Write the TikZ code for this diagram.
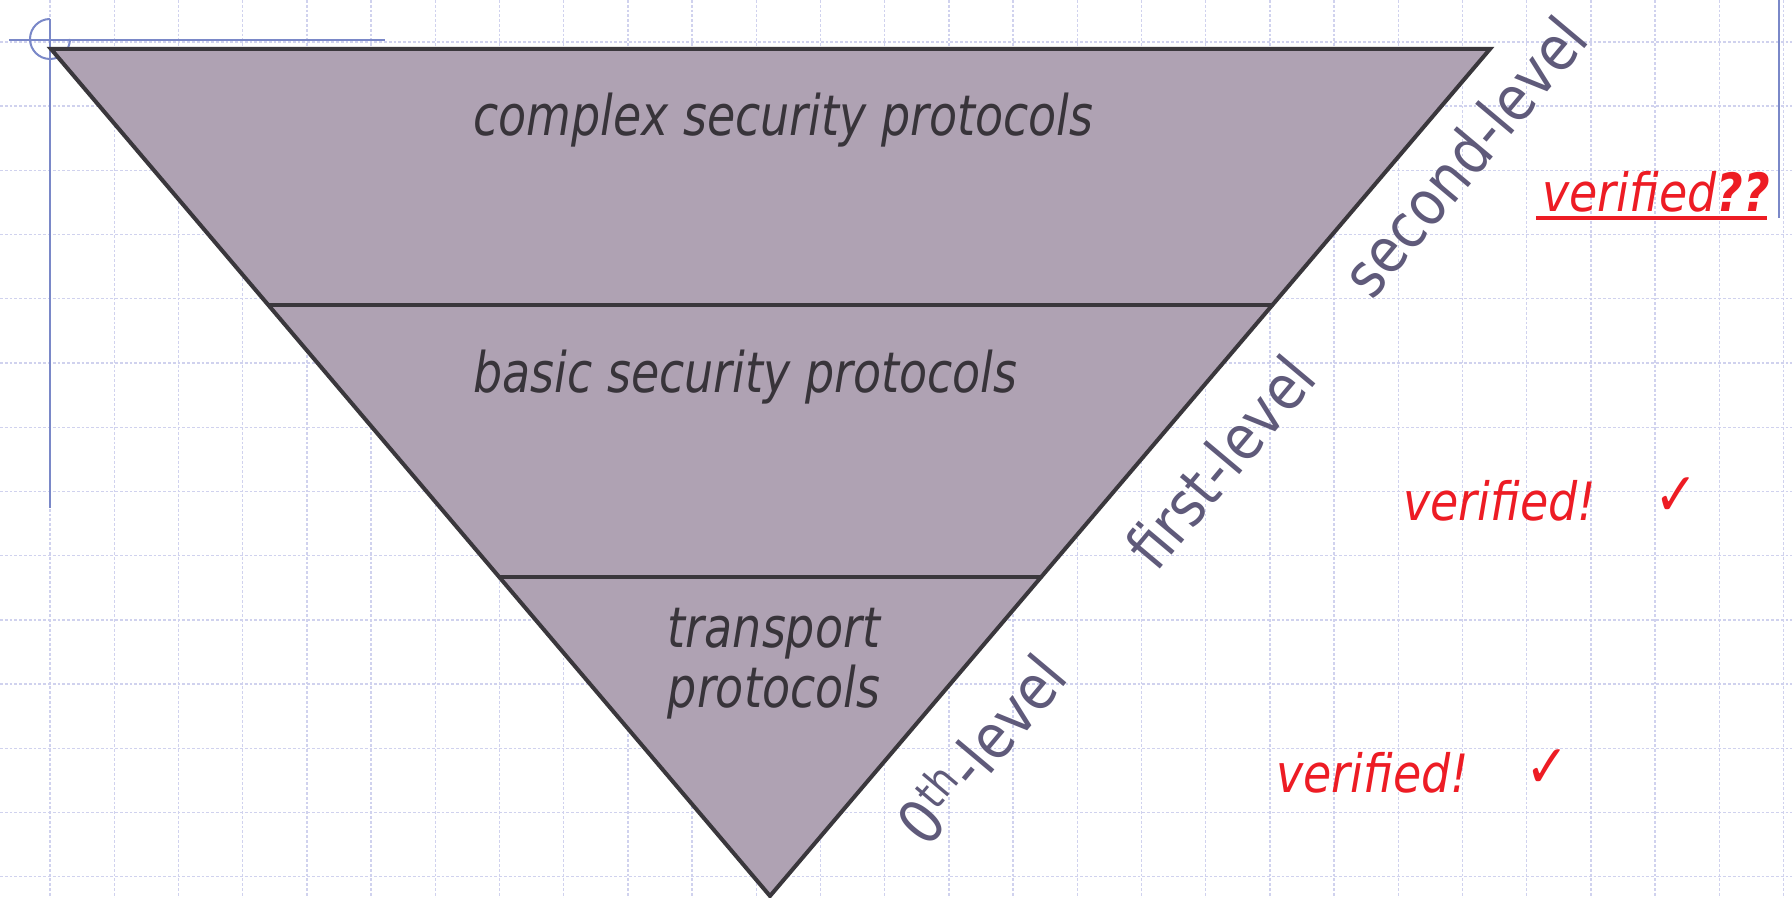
\documentclass[tikz,border=0pt]{standalone}
\usepackage{fontspec}
\setmainfont{DejaVu Sans}[FakeStretch=0.87]
\newfontfamily\narrowfont{DejaVu Sans}[FakeStretch=0.82]
\usetikzlibrary{calc}
\definecolor{gridc}{RGB}{208,210,238}
\definecolor{guide}{RGB}{122,136,200}
\definecolor{trifill}{RGB}{175,162,179}
\definecolor{triline}{RGB}{58,55,60}
\definecolor{intext}{RGB}{56,52,58}
\definecolor{lvltext}{RGB}{95,90,122}
\definecolor{redtext}{RGB}{237,28,36}
\tikzset{
  gridline/.style={draw=gridc, line width=0.7pt, dash pattern=on 1.4pt off 1pt},
  guideline/.style={draw=guide, line width=1pt},
  tri/.style={fill=trifill, draw=triline, line width=2pt},
  bandline/.style={draw=triline, line width=2pt},
  intxt/.style={inner sep=0pt, text=intext, font=\narrowfont\fontsize{28}{30}\selectfont\itshape},
  lvl/.style={inner sep=0pt, text=lvltext, rotate=50, font=\fontsize{31}{34}\selectfont},
  redtxt/.style={inner sep=0pt, text=redtext, font=\fontsize{26.4}{30}\selectfont\itshape},
  chk/.style={inner sep=0pt, text=redtext, font=\fontsize{30}{32}\selectfont\bfseries},
}
\begin{document}
\begin{tikzpicture}[x=0.5pt,y=-0.5pt]
\useasboundingbox (0,0) rectangle (1792,898);
\fill[white] (0,0) rectangle (1792,898);
% grid
\foreach \i in {0,...,27} \draw[gridline] ({50+64.2*\i},0) -- ({50+64.2*\i},898);
\foreach \j in {0,...,13} \draw[gridline] (0,{42+64.2*\j}) -- (1792,{42+64.2*\j});
% guides
\draw[guideline] (9,40) -- (385,40);
\draw[guideline] (50,19) -- (50,508);
\draw[guideline] (50,19) arc[start angle=270, end angle=0, radius=20];
\draw[guideline] (1779,0) -- (1779,218);
% triangle
\coordinate (A) at (51,49);
\coordinate (B) at (1490,49);
\coordinate (C) at (770,896);
\filldraw[tri] (A) -- (B) -- (C) -- cycle;
\coordinate (L1) at ($(A)!0.3022!(C)$);
\coordinate (R1) at ($(B)!0.3022!(C)$);
\coordinate (L2) at ($(A)!0.6234!(C)$);
\coordinate (R2) at ($(B)!0.6234!(C)$);
\draw[bandline] (L1) -- (R1);
\draw[bandline] (L2) -- (R2);
% inner texts
\node[intxt, anchor=base west] (complex) at (473,136) {complex security protocols};
\node[intxt, anchor=base west] (basic) at (473,393) {basic security protocols};
\node[intxt, align=center] (transport) at (774,664) {transport\\protocols};
% level labels
\node[lvl] (lvl2) at (1464,156) {second-level};
\node[lvl] (lvl1) at (1220,462) {first-level};
\node[lvl] (lvl0) at (980,748) {0\textsuperscript{th}-level};
% verified
\node[redtxt, anchor=base west] (ver2) at (1542,212) {verified\textbf{??}};
\draw[draw=redtext, line width=2pt] ($(ver2.base west)+(-6,6)$) -- ($(ver2.base east)+(-3,6)$);
\node[redtxt, anchor=base west] (ver1) at (1403,520) {verified!};
\node[chk] (chk1) at (1676,497) {✓};
\node[redtxt, anchor=base west] (ver0) at (1276,792) {verified!};
\node[chk] (chk0) at (1547,769) {✓};
\end{tikzpicture}
\end{document}
